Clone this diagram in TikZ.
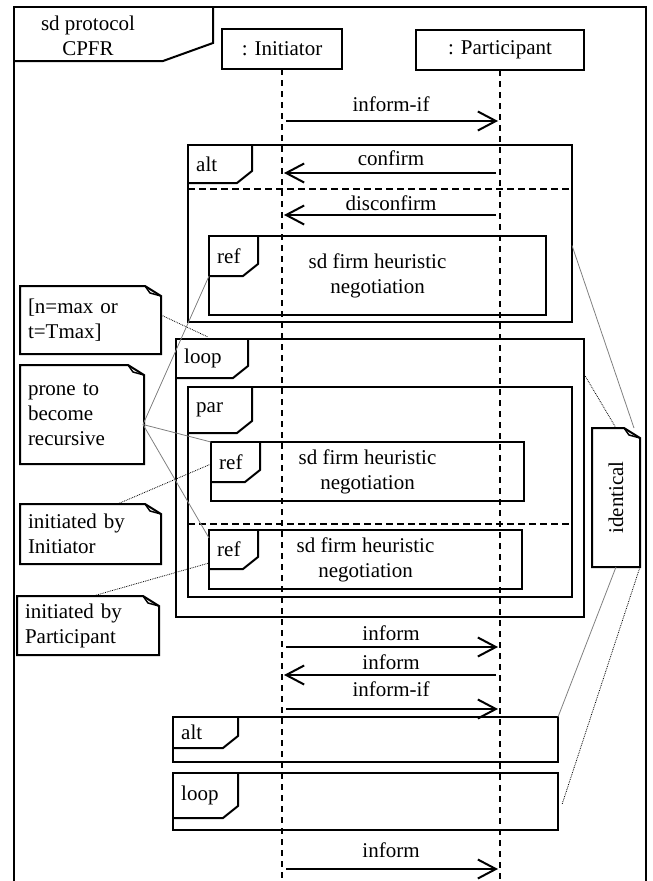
\documentclass[tikz,border=0pt]{standalone}
\usepackage{fontspec}
\setmainfont{Liberation Serif}
\usetikzlibrary{arrows.meta,calc}

\tikzset{
  every node/.style={font=\fontsize{21}{25}\selectfont},
  frameline/.style={line width=2pt},
  fragbox/.style={draw, line width=2pt, anchor=north west, inner sep=0pt, outer sep=0pt, align=center},
  headbox/.style={draw, line width=2pt, anchor=north west, inner sep=0pt, outer sep=0pt},
  lifeline/.style={line width=1.5pt, dash pattern=on 6pt off 5pt},
  msg/.style={line width=2pt, shorten <=4pt, shorten >=2pt,
    -{Straight Barb[length=18pt,width=19pt,line width=2pt]}},
  notebox/.style={anchor=north west, inner ysep=0pt, inner xsep=8pt, outer sep=0pt, align=left},
  notelink/.style={gray, line width=0.8pt},
  notedots/.style={line width=0.8pt, densely dotted},
}

% tab of a combined fragment: node, tab width, tab height, label
\newcommand\fragtab[4]{%
  \draw[frameline] ($(#1.north west)+(0,#3)$) -- ++(#2-15,0) -- ++(15,-12)
    -- ($(#1.north west)+(#2,0)$);
  \node[anchor=west, inner sep=0pt] at ($(#1.north west)+(8,#3/2)$) {#4};
}
% outline of a note with its folded corner
\newcommand\notefold[1]{%
  \draw[frameline] (#1.north west) -- ($(#1.north east)+(-16,0)$)
    -- ($(#1.north east)+(0,10)$) -- (#1.south east) -- (#1.south west) -- cycle;
  \draw[line width=1.5pt] ($(#1.north east)+(-16,0)$) -- ($(#1.north east)+(-11,7)$)
    -- ($(#1.north east)+(0,10)$);
}

\begin{document}
\begin{tikzpicture}[x=1pt,y=-1pt]
  \useasboundingbox (0,0) rectangle (653,881);
  \coordinate (bot) at (0,881);

  % diagram frame
  \draw[frameline] (14,881) -- (14,7) -- (646,7) -- (646,881);
  \draw[frameline] (14,61) -- (163,61) -- (213,43) -- (213,7);
  \node[align=center, inner sep=0pt] (title) at (88,36) {sd protocol\\CPFR};

  % lifelines
  \node[headbox, minimum width=120, minimum height=40] (init) at (222,29) {: Initiator};
  \node[headbox, minimum width=168, minimum height=40] (part) at (416,30) {: Participant};
  \draw[lifeline] (init.south) -- (init.south |- bot);
  \draw[lifeline] (part.south) -- (part.south |- bot);

  % messages
  \foreach \y/\a/\b/\d/\txt in {121/init/part/8/inform-if, 173/part/init/6/confirm,
      215/part/init/3/disconfirm, 647/init/part/5/inform, 675/part/init/4/inform,
      709/init/part/11/inform-if, 869/init/part/10/inform}
    \draw[msg] (\a.south |- 0,\y) -- (\b.south |- 0,\y)
      node[midway, above=\d pt, inner sep=0pt] {\txt};

  % combined fragments
  \node[fragbox, minimum width=384, minimum height=177] (alt1) at (188,145) {};
  \fragtab{alt1}{64}{38}{alt}
  \draw[frameline, dash pattern=on 7pt off 4pt] ([yshift=-44pt]alt1.north west) -- ([yshift=-44pt]alt1.north east);
  \node[fragbox, minimum width=337, minimum height=79] (ref1) at (209,236) {sd firm heuristic\\negotiation};
  \fragtab{ref1}{49}{40}{ref}

  \node[fragbox, minimum width=408, minimum height=278] (loop1) at (176,339) {};
  \fragtab{loop1}{72}{39}{loop}
  \node[fragbox, minimum width=384, minimum height=210] (par1) at (188,387) {};
  \fragtab{par1}{64}{46}{par}
  \draw[frameline, dash pattern=on 7pt off 4pt] ([yshift=-137pt]par1.north west) -- ([yshift=-137pt]par1.north east);
  \node[fragbox, minimum width=313, minimum height=59] (ref2) at (211,442) {sd firm heuristic\\negotiation};
  \fragtab{ref2}{49}{40}{ref}
  \node[fragbox, minimum width=313, minimum height=59] (ref3) at (209,530) {sd firm heuristic\\negotiation};
  \fragtab{ref3}{49}{39}{ref}

  \node[fragbox, minimum width=385, minimum height=45] (alt2) at (173,717) {};
  \fragtab{alt2}{65}{31}{alt}
  \node[fragbox, minimum width=385, minimum height=57] (loop2) at (173,773) {};
  \fragtab{loop2}{65}{45}{loop}

  % notes
  \node[notebox, minimum width=141, minimum height=68, text width=125] (n1) at (20,286) {[n=max or\\t=Tmax]};
  \notefold{n1}
  \node[notebox, minimum width=124, minimum height=99, text width=108] (n2) at (20,365) {prone to\\become\\recursive};
  \notefold{n2}
  \node[notebox, minimum width=141, minimum height=60, text width=125] (n3) at (20,504) {initiated by\\Initiator};
  \notefold{n3}
  \node[notebox, minimum width=142, minimum height=59, text width=126] (n4) at (17,596) {initiated by\\Participant};
  \notefold{n4}
  \node[notebox, minimum width=48, minimum height=139, inner sep=0pt] (same) at (592,428) {};
  \notefold{same}
  \node[rotate=90, inner sep=0pt] (samelbl) at (same.center) {identical};

  % note links
  \coordinate (n2p) at ([xshift=-1pt,yshift=-10pt]n2.east);
  \draw[notedots] ([yshift=5pt]n1.east) -- ([xshift=32pt,yshift=2pt]loop1.north west);
  \draw[notelink] (n2p) -- ([yshift=-40pt]ref1.north west);
  \draw[notelink] (n2p) -- (ref2.north west);
  \draw[notelink] (n2p) -- ([yshift=-8pt]ref3.north west);
  \draw[notedots] ([xshift=27pt]n3.north) -- ([yshift=-22pt]ref2.north west);
  \draw[notedots] ([xshift=5pt]n4.north) -- ([yshift=-33pt]ref3.north west);
  \draw[notelink] ([xshift=-6pt]same.north east) -- ([yshift=-12pt]alt1.east);
  \draw[notedots] (same.north) -- ([yshift=-35pt]loop1.north east);
  \draw[notelink] (same.south) -- (alt2.north east);
  \draw[notedots] (same.south east) -- ([xshift=4pt,yshift=-3pt]loop2.east);
\end{tikzpicture}
\end{document}
